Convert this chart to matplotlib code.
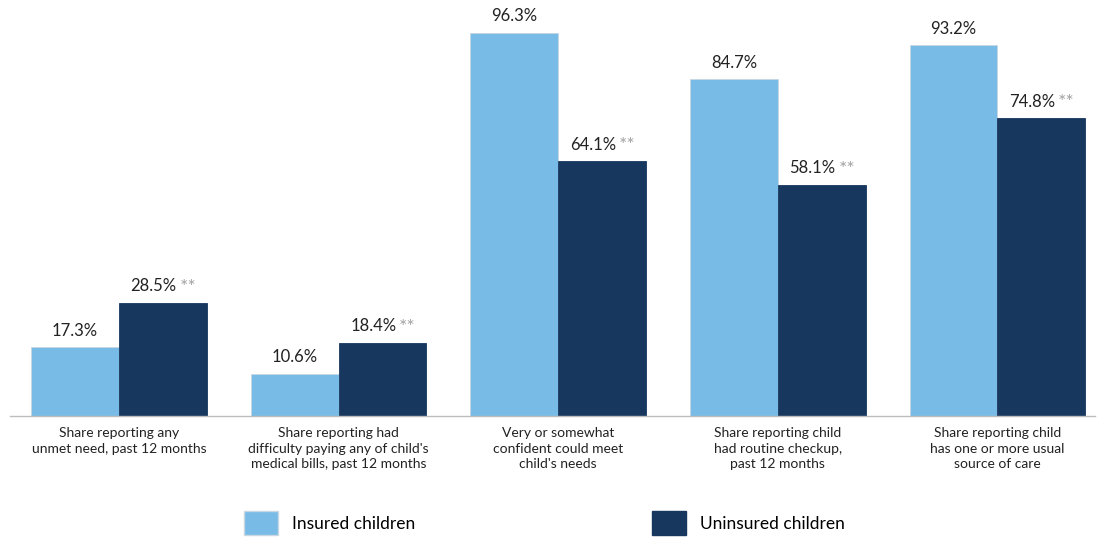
import matplotlib.pyplot as plt
import numpy as np
from matplotlib.patches import Patch

plt.rcParams['font.family'] = ['Lato', 'DejaVu Sans']

categories = [
    "Share reporting any\nunmet need, past 12 months",
    "Share reporting had\ndifficulty paying any of child's\nmedical bills, past 12 months",
    "Very or somewhat\nconfident could meet\nchild's needs",
    "Share reporting child\nhad routine checkup,\npast 12 months",
    "Share reporting child\nhas one or more usual\nsource of care",
]
insured = [17.3, 10.6, 96.3, 84.7, 93.2]
uninsured = [28.5, 18.4, 64.1, 58.1, 74.8]
series_names = ["Insured children", "Uninsured children"]

light = '#77BBE6'
dark = '#17375E'

fig = plt.figure(figsize=(10.98, 5.40), dpi=100)
ax = fig.add_axes([10/1098, 1 - 416/540, 1085/1098, 398/540])

x = np.arange(len(categories))
w = 0.4
b1 = ax.bar(x - w/2, insured, w, color=light, edgecolor='#c9d7e2', linewidth=0.6)
b2 = ax.bar(x + w/2, uninsured, w, color=dark, edgecolor=dark, linewidth=0.6)

# value labels, "**" drawn in grey after uninsured numbers
for xi, v in zip(x - w/2, insured):
    ax.annotate(f"{v:.1f}%", (xi, v), xytext=(0, 6), textcoords='offset points',
                ha='center', va='bottom', fontsize=12, color='#222222')
for xi, v in zip(x + w/2, uninsured):
    ax.annotate(f"{v:.1f}%", (xi, v), xytext=(10, 6), textcoords='offset points',
                ha='right', va='bottom', fontsize=12, color='#222222')
    ax.annotate("**", (xi, v), xytext=(12, 5), textcoords='offset points',
                ha='left', va='bottom', fontsize=14, color='#a3a3a3')

ax.set_xlim(-0.496, 4.444)
ax.set_ylim(0, 100)
ax.set_xticks(x)
ax.set_xticklabels(categories, fontsize=10, color='#222222', linespacing=1.35)
ax.tick_params(axis='x', length=0, pad=8)
ax.set_yticks([])
for s in ['top', 'right', 'left']:
    ax.spines[s].set_visible(False)
ax.spines['bottom'].set_color('#bdbdbd')
ax.spines['bottom'].set_linewidth(1)

handles = [Patch(facecolor=light, edgecolor='#c9d7e2'), Patch(facecolor=dark, edgecolor=dark)]
fig.legend(handles, series_names, loc='lower left', bbox_to_anchor=(228/1098, -0.02),
           ncol=2, frameon=False, fontsize=12.5, handlelength=2.0, handleheight=1.75,
           columnspacing=13.6, handletextpad=0.8)

fig.savefig('out.png', dpi=100)
